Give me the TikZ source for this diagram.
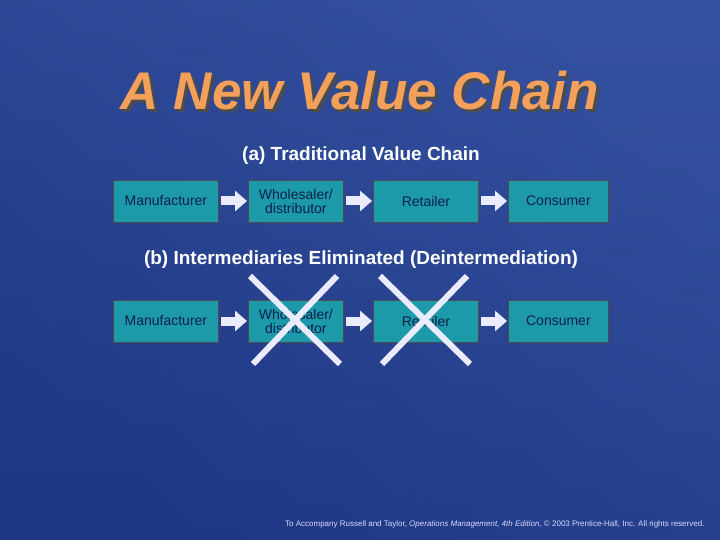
\documentclass[tikz,border=0pt]{standalone}
\usepackage{fontspec}
\setmainfont{Liberation Sans}
\usetikzlibrary{shapes.arrows,shadings,arrows.meta}
\definecolor{bgA}{HTML}{34519F}
\definecolor{bgB}{HTML}{1F3784}
\definecolor{teal}{HTML}{1C9AAA}
\definecolor{ttl}{HTML}{F2A05A}
\definecolor{ink}{HTML}{0F1F4A}
\tikzset{
  box/.style={draw=black!70, line width=0.8pt, fill=teal, minimum width=#1, minimum height=42pt, inner sep=0pt, align=center, font=\fontsize{14}{14}\selectfont, text=ink, anchor=west},
  box/.default=100pt,
  conn/.style={-{Triangle[width=20pt,length=12pt]}, line width=9pt, draw=white!92!blue},
  crs/.style={line width=6pt, draw=white!92!blue},
  head/.style={font=\bfseries\fontsize{19}{19}\selectfont, text=white}
}
\begin{document}
\begin{tikzpicture}[x=1pt,y=-1pt]
\useasboundingbox (0,0) rectangle (720,540);
\shade[left color=bgB, right color=bgA, shading angle=135] (0,0) rectangle (720,540);
\shade[top color=bgA, bottom color=bgB,opacity=0.4] (0,0) rectangle (720,540);
\node (title) [font=\bfseries\itshape\fontsize{53}{53}\selectfont, text=ttl, preaction={}] at (360,92) {\rlap{\color{black!70}\kern2.5pt\raisebox{-2.5pt}{A New Value Chain}}A New Value Chain};
\node (ha) [head] at (361,156) {(a) Traditional Value Chain};
\node (hb) [head] at (361,260) {(b) Intermediaries Eliminated (Deintermediation)};
\foreach \r/\y in {a/201,b/321}{
  \node (m\r) [box=105pt] at (113,\y) {Manufacturer};
  \node (w\r) [box=95pt] at (248,\y) {Wholesaler/\\distributor};
  \node (t\r) [box=105pt] at (373,\y) {Retailer};
  \node (c\r) [box=100pt] at (508,\y) {Consumer};
  \draw[conn] ([xshift=2pt]m\r.east) -- ([xshift=-1pt]w\r.west);
  \draw[conn] ([xshift=2pt]w\r.east) -- ([xshift=-1pt]t\r.west);
  \draw[conn] ([xshift=2pt]t\r.east) -- ([xshift=-1pt]c\r.west);
}
\coordinate (x1a) at (250,276); \coordinate (x1b) at (340,364);
\coordinate (x2a) at (337,276); \coordinate (x2b) at (253,364);
\coordinate (x3a) at (380,276); \coordinate (x3b) at (470,364);
\coordinate (x4a) at (467,276); \coordinate (x4b) at (382,364);
\draw[crs] (x1a) -- (x1b); \draw[crs] (x2a) -- (x2b);
\draw[crs] (x3a) -- (x3b); \draw[crs] (x4a) -- (x4b);
\node (foot) [font=\fontsize{8}{8}\selectfont, text=white!85!blue, anchor=east] at (708,524) {To Accompany Russell and Taylor, \textit{Operations Management, 4th Edition}, © 2003 Prentice-Hall, Inc. All rights reserved.};
\end{tikzpicture}
\end{document}
